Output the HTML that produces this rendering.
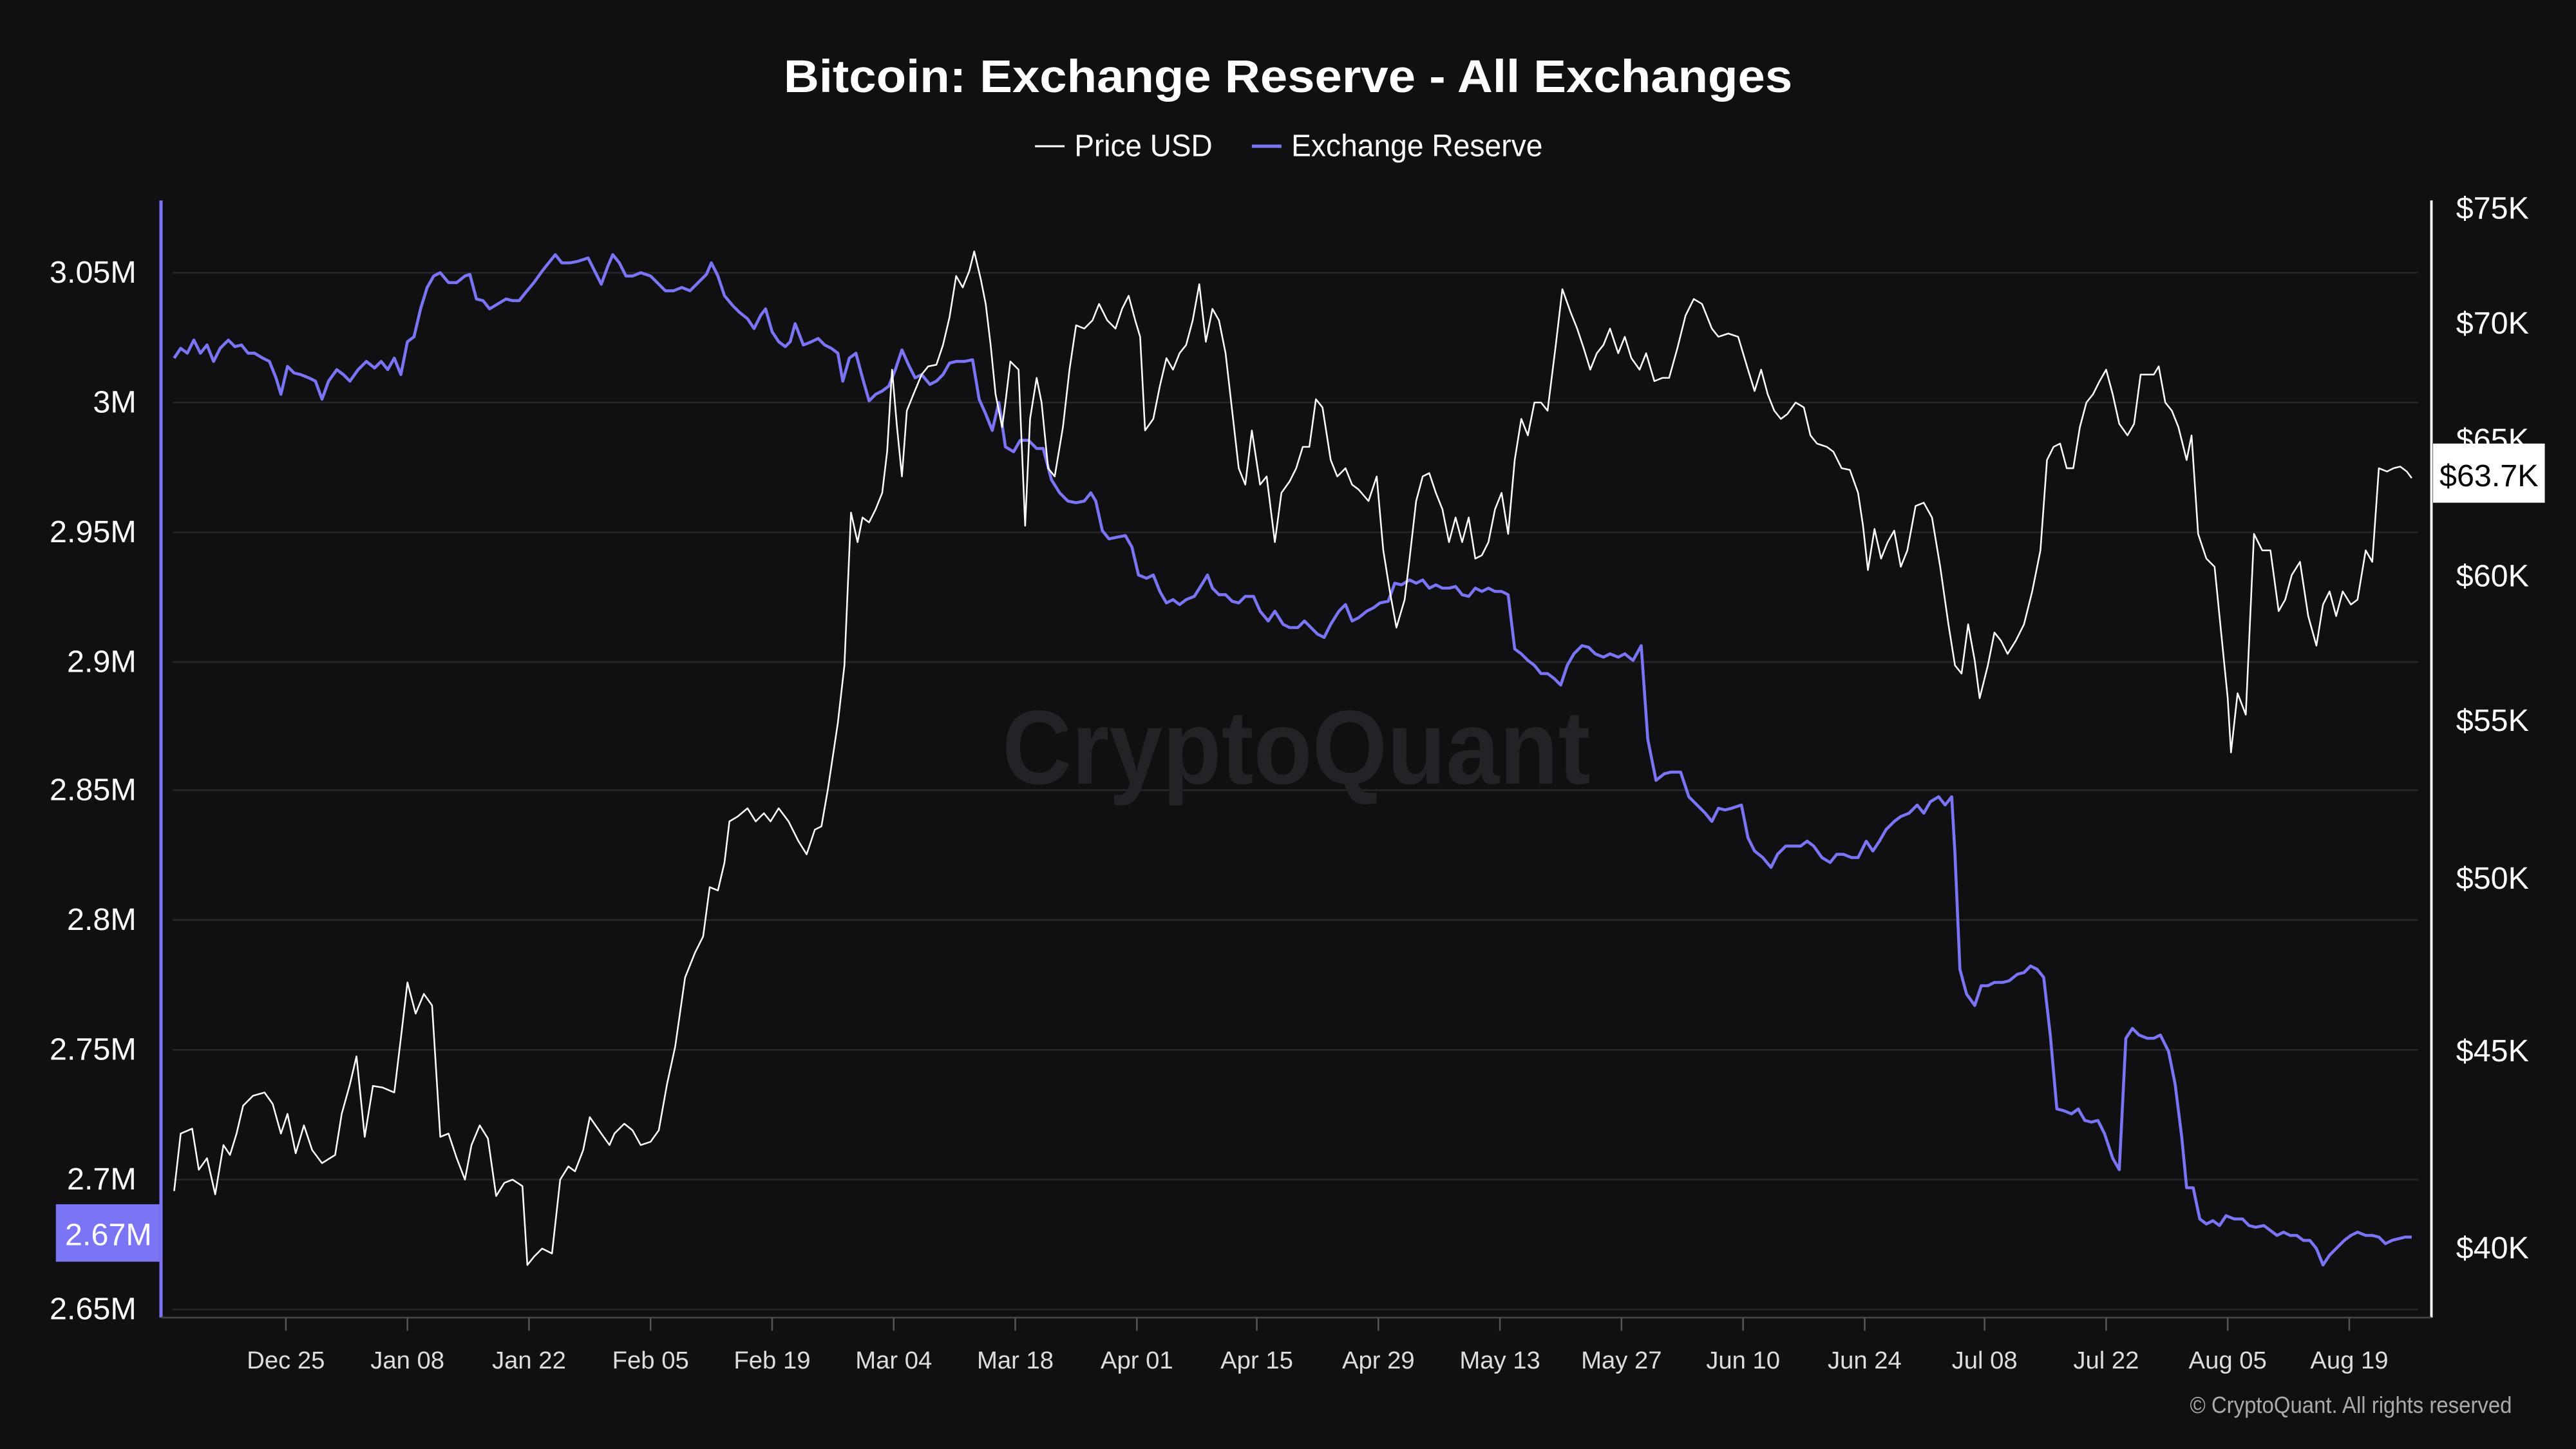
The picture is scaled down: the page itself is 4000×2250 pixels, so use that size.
<!DOCTYPE html>
<html><head><meta charset="utf-8"><style>
html,body{margin:0;padding:0;background:#101013;}
svg{display:block;}
text{font-family:"Liberation Sans",sans-serif;}
</style></head><body>
<svg width="4000" height="2250" viewBox="0 0 1568 882" xmlns="http://www.w3.org/2000/svg">
<rect width="1568" height="882" fill="#101013"/>
<text x="784" y="56" text-anchor="middle" fill="#fff" font-size="28" font-weight="bold" textLength="614" lengthAdjust="spacingAndGlyphs">Bitcoin: Exchange Reserve - All Exchanges</text>
<line x1="630" y1="89" x2="648" y2="89" stroke="#fff" stroke-width="1.2"/>
<text x="654" y="95" fill="#fff" font-size="19" textLength="84" lengthAdjust="spacingAndGlyphs">Price USD</text>
<line x1="762" y1="89" x2="780" y2="89" stroke="#7b74f5" stroke-width="2"/>
<text x="786" y="95" fill="#fff" font-size="19" textLength="153" lengthAdjust="spacingAndGlyphs">Exchange Reserve</text>
<g stroke="#26262b" stroke-width="1">
<line x1="105" y1="166" x2="1472" y2="166"/><line x1="105" y1="245" x2="1472" y2="245"/><line x1="105" y1="324" x2="1472" y2="324"/><line x1="105" y1="403" x2="1472" y2="403"/><line x1="105" y1="481" x2="1472" y2="481"/><line x1="105" y1="560" x2="1472" y2="560"/><line x1="105" y1="639" x2="1472" y2="639"/><line x1="105" y1="718" x2="1472" y2="718"/><line x1="105" y1="797" x2="1472" y2="797"/>
</g>
<text x="789" y="477" text-anchor="middle" fill="#222227" font-size="64" font-weight="bold" textLength="358" lengthAdjust="spacingAndGlyphs">CryptoQuant</text>
<line x1="98" y1="122" x2="98" y2="802" stroke="#7b74f5" stroke-width="2"/>
<line x1="1480" y1="122" x2="1480" y2="802" stroke="#fff" stroke-width="1.5"/>
<line x1="98" y1="802" x2="1480" y2="802" stroke="#444" stroke-width="1"/>
<g stroke="#555" stroke-width="1">
<line x1="174" y1="802" x2="174" y2="810"/><line x1="248" y1="802" x2="248" y2="810"/><line x1="322" y1="802" x2="322" y2="810"/><line x1="396" y1="802" x2="396" y2="810"/><line x1="470" y1="802" x2="470" y2="810"/><line x1="544" y1="802" x2="544" y2="810"/><line x1="618" y1="802" x2="618" y2="810"/><line x1="692" y1="802" x2="692" y2="810"/><line x1="765" y1="802" x2="765" y2="810"/><line x1="839" y1="802" x2="839" y2="810"/><line x1="913" y1="802" x2="913" y2="810"/><line x1="987" y1="802" x2="987" y2="810"/><line x1="1061" y1="802" x2="1061" y2="810"/><line x1="1135" y1="802" x2="1135" y2="810"/><line x1="1208" y1="802" x2="1208" y2="810"/><line x1="1282" y1="802" x2="1282" y2="810"/><line x1="1356" y1="802" x2="1356" y2="810"/><line x1="1430" y1="802" x2="1430" y2="810"/>
</g>
<g fill="#ddd" font-size="15" text-anchor="middle">
<text x="174" y="833">Dec 25</text><text x="248" y="833">Jan 08</text><text x="322" y="833">Jan 22</text><text x="396" y="833">Feb 05</text><text x="470" y="833">Feb 19</text><text x="544" y="833">Mar 04</text><text x="618" y="833">Mar 18</text><text x="692" y="833">Apr 01</text><text x="765" y="833">Apr 15</text><text x="839" y="833">Apr 29</text><text x="913" y="833">May 13</text><text x="987" y="833">May 27</text><text x="1061" y="833">Jun 10</text><text x="1135" y="833">Jun 24</text><text x="1208" y="833">Jul 08</text><text x="1282" y="833">Jul 22</text><text x="1356" y="833">Aug 05</text><text x="1430" y="833">Aug 19</text>
</g>
<g fill="#fff" font-size="19" text-anchor="end">
<text x="83" y="172">3.05M</text><text x="83" y="251">3M</text><text x="83" y="330">2.95M</text><text x="83" y="409">2.9M</text><text x="83" y="487">2.85M</text><text x="83" y="566">2.8M</text><text x="83" y="645">2.75M</text><text x="83" y="724">2.7M</text><text x="83" y="803">2.65M</text>
</g>
<g fill="#fff" font-size="19">
<text x="1495" y="133">$75K</text><text x="1495" y="203">$70K</text><text x="1495" y="274">$65K</text><text x="1495" y="357">$60K</text><text x="1495" y="445">$55K</text><text x="1495" y="541">$50K</text><text x="1495" y="646">$45K</text><text x="1495" y="766">$40K</text>
</g>
<polyline fill="none" stroke="#7b74f5" stroke-width="1.8" stroke-linejoin="round" points="106,218 110,212 114,215 118,207 122,215 126,210 130,220 134,212 139,207 143,211 147,210 151,215 155,215 160,218 164,220 168,230 171,240 175,223 179,227 183,228 188,230 192,232 196,243 200,232 205,225 209,228 213,232 218,225 223,220 228,224 232,220 236,225 240,218 244,228 248,208 252,205 256,188 260,175 264,168 268,166 273,172 278,172 283,168 286,167 290,182 294,183 298,188 303,185 308,182 312,183 316,183 320,178 325,172 330,165 334,160 338,155 342,160 347,160 352,159 358,157 362,165 366,173 370,162 373,155 377,160 381,168 385,168 390,166 396,168 400,172 405,177 410,177 415,175 420,177 425,172 430,167 433,160 437,168 441,180 446,186 450,190 455,194 459,200 463,192 466,188 470,202 474,208 478,211 481,208 484,197 489,210 494,208 498,206 502,210 506,212 510,215 513,232 517,218 521,215 525,230 529,244 533,240 537,238 541,235 545,225 549,213 553,222 557,230 561,228 566,234 570,232 574,228 578,221 582,220 587,220 592,219 596,243 600,252 604,262 608,245 612,272 617,275 621,268 626,268 631,273 635,273 640,292 645,300 650,305 655,306 660,305 664,300 667,305 671,323 675,328 680,327 685,326 689,333 693,350 698,352 702,350 706,360 710,367 714,365 718,368 722,365 727,363 732,355 735,350 738,358 742,362 746,362 750,366 754,367 758,363 763,363 767,372 772,378 776,372 781,380 785,382 790,382 794,378 798,382 802,386 806,388 810,380 815,372 819,368 823,378 827,376 832,372 836,370 840,367 845,366 849,355 853,356 858,353 862,355 866,353 870,358 874,356 878,358 882,358 886,357 890,362 894,363 898,358 902,360 906,358 910,360 914,360 918,362 922,395 926,398 930,402 934,405 938,410 942,410 946,413 950,417 954,405 958,398 963,393 967,394 971,398 976,400 980,398 985,400 989,398 994,402 999,393 1003,450 1008,475 1013,471 1017,470 1023,470 1028,485 1033,490 1038,495 1042,500 1046,492 1050,493 1054,492 1060,490 1064,510 1068,518 1073,522 1078,528 1082,520 1087,515 1091,515 1096,515 1100,512 1104,515 1109,522 1114,525 1118,520 1122,520 1127,522 1131,522 1136,512 1140,518 1144,512 1148,505 1153,500 1157,497 1162,495 1167,490 1171,495 1175,488 1180,485 1184,490 1188,485 1190,520 1193,590 1197,605 1202,612 1206,600 1210,600 1214,598 1219,598 1223,597 1228,593 1232,592 1236,588 1240,590 1244,595 1248,630 1252,675 1256,676 1261,678 1265,675 1269,682 1273,683 1277,682 1281,690 1286,705 1290,712 1294,632 1298,626 1302,630 1307,632 1311,632 1315,630 1320,640 1324,660 1328,692 1331,723 1335,723 1339,742 1343,745 1347,743 1351,746 1355,740 1360,742 1365,742 1369,746 1373,747 1378,746 1382,749 1386,752 1390,750 1394,752 1398,752 1402,755 1406,755 1410,760 1414,770 1418,764 1422,760 1427,755 1431,752 1435,750 1440,752 1444,752 1448,753 1452,757 1456,755 1460,754 1464,753 1468,753"/>
<polyline fill="none" stroke="#fff" stroke-width="1" stroke-linejoin="round" points="106,725 110,690 117,687 121,712 126,705 131,727 136,697 140,703 144,690 148,673 154,667 161,665 166,672 171,690 175,678 180,702 185,685 190,700 196,708 204,703 208,678 213,660 217,643 222,692 227,661 233,662 240,665 244,632 248,598 253,617 258,605 263,612 268,692 273,690 278,705 283,718 287,697 292,685 297,693 302,728 307,720 312,718 318,722 321,770 325,765 330,760 336,763 341,718 346,710 350,713 355,700 359,680 366,690 371,697 374,690 380,684 385,688 390,697 396,695 401,688 406,660 411,637 417,595 423,580 428,570 432,540 437,542 441,525 444,500 449,497 455,492 460,500 465,495 469,500 474,492 480,500 486,512 491,520 496,505 500,503 504,480 510,440 514,405 518,312 522,330 525,315 529,318 533,310 537,300 540,275 543,225 546,260 549,290 552,250 556,240 561,228 565,223 570,222 574,210 578,193 582,168 586,175 590,165 593,153 597,170 600,185 603,210 606,240 610,260 612,245 615,220 620,225 624,320 627,255 631,230 634,245 638,285 642,290 647,260 651,225 655,198 660,200 665,195 669,185 674,195 679,200 683,188 687,180 691,195 694,205 697,262 702,255 706,235 710,218 714,225 718,215 722,210 726,195 730,173 734,208 738,188 742,195 746,215 750,250 754,285 758,295 762,262 767,295 771,290 776,330 780,300 785,293 789,285 793,272 797,272 801,243 805,248 810,280 814,290 819,285 823,295 827,298 833,305 838,290 842,335 846,360 850,382 855,365 858,340 862,305 866,290 870,288 874,300 878,310 882,330 886,315 890,330 894,315 898,340 902,338 906,330 910,310 914,300 918,325 922,280 926,255 930,265 934,245 938,245 942,250 947,210 951,176 956,190 960,200 964,212 968,225 972,215 976,210 980,200 985,215 989,205 993,218 998,225 1002,215 1007,232 1012,230 1016,230 1021,212 1026,192 1031,182 1036,185 1042,200 1046,205 1052,203 1058,205 1064,225 1068,238 1072,225 1076,240 1080,250 1084,255 1088,252 1093,245 1098,248 1102,265 1106,270 1112,272 1116,275 1121,285 1126,286 1131,300 1134,320 1137,347 1141,322 1145,340 1149,330 1153,323 1157,345 1161,335 1166,308 1171,306 1176,315 1181,345 1186,380 1190,405 1194,410 1198,380 1202,402 1205,425 1210,405 1214,385 1218,390 1222,398 1227,390 1232,380 1237,360 1242,335 1246,280 1250,272 1254,270 1258,285 1262,285 1266,260 1270,245 1274,240 1278,232 1282,225 1286,240 1290,258 1295,265 1299,258 1303,228 1307,228 1311,228 1314,223 1318,245 1322,250 1326,260 1331,280 1334,265 1338,325 1343,340 1348,345 1352,385 1356,425 1358,458 1362,422 1367,435 1372,325 1377,335 1382,335 1387,372 1391,365 1395,350 1400,342 1405,375 1410,393 1414,368 1418,360 1422,375 1426,360 1431,368 1435,365 1440,335 1444,342 1448,285 1453,287 1457,285 1461,284 1465,287 1468,291"/>
<rect x="1481" y="270" width="68" height="36" fill="#fff"/>
<text x="1515" y="296" text-anchor="middle" fill="#000" font-size="19">$63.7K</text>
<rect x="34" y="733" width="63" height="35" fill="#7b74f5"/>
<text x="66" y="758" text-anchor="middle" fill="#fff" font-size="19">2.67M</text>
<text x="1529" y="860" text-anchor="end" fill="#aaa" font-size="14" textLength="196" lengthAdjust="spacingAndGlyphs">© CryptoQuant. All rights reserved</text>
</svg>
</body></html>
